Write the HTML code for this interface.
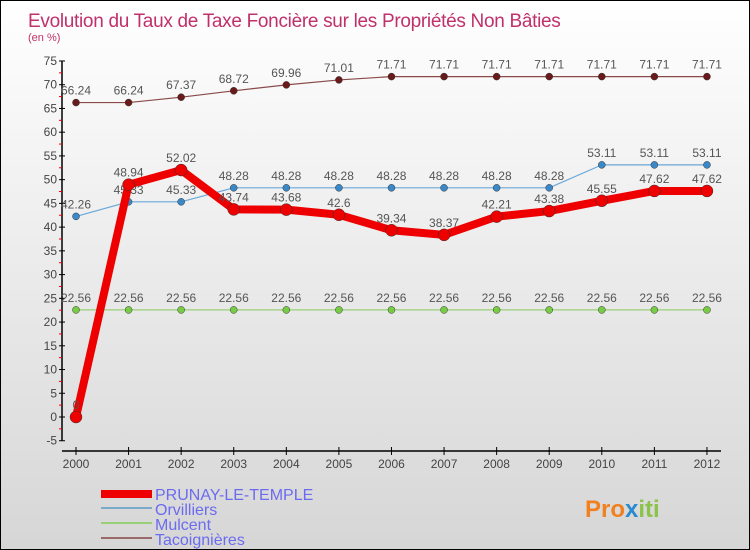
<!DOCTYPE html>
<html><head><meta charset="utf-8"><style>
body{margin:0}
#c{width:748px;height:548px;border:1px solid #000;position:relative;background:linear-gradient(#fff,#d6d6d6);font-family:"Liberation Sans",sans-serif;overflow:hidden}
</style></head><body>
<div id="c">
<svg width="748" height="548" id="s" style="position:absolute;left:0;top:0">
<text x="27" y="26" font-size="19" letter-spacing="-0.3" fill="#c0306a">Evolution du Taux de Taxe Foncière sur les Propriétés Non Bâties</text>
<text x="27" y="40" font-size="11" fill="#c0306a">(en %)</text>
<g id="ax"></g><g id="series"></g>
<g font-size="16" fill="#6b6bf0">
<rect x="100" y="489" width="51" height="8" fill="#e00"/>
<text x="154" y="499">PRUNAY-LE-TEMPLE</text>
<line x1="100" y1="507" x2="151" y2="507" stroke="#7aaac8" stroke-width="2"/>
<text x="154" y="514">Orvilliers</text>
<line x1="100" y1="522" x2="151" y2="522" stroke="#99d077" stroke-width="2"/>
<text x="154" y="529">Mulcent</text>
<line x1="100" y1="537" x2="151" y2="537" stroke="#9a6a6a" stroke-width="2"/>
<text x="154" y="544">Tacoignières</text>
</g>
<text x="584" y="516" font-size="24" font-weight="bold" fill="#f08020">Pro<tspan fill="#2a8ad0">x</tspan><tspan fill="#8bc34a">iti</tspan></text>
</svg>
</div>
<script>
const years=[2000,2001,2002,2003,2004,2005,2006,2007,2008,2009,2010,2011,2012];
const prunay=[0,48.94,52.02,43.74,43.68,42.6,39.34,38.37,42.21,43.38,45.55,47.62,47.62];
const orvilliers=[42.26,45.33,45.33,48.28,48.28,48.28,48.28,48.28,48.28,48.28,53.11,53.11,53.11];
const mulcent=[22.56,22.56,22.56,22.56,22.56,22.56,22.56,22.56,22.56,22.56,22.56,22.56,22.56];
const tacoignieres=[66.24,66.24,67.37,68.72,69.96,71.01,71.71,71.71,71.71,71.71,71.71,71.71,71.71];
const yTicks=[-5,0,5,10,15,20,25,30,35,40,45,50,55,60,65,70,75];
const NS="http://www.w3.org/2000/svg";
const X=i=>75+i*52.58, Y=v=>416-v*4.747;
function mk(p,t,a){const e=document.createElementNS(NS,t);for(const k in a)e.setAttribute(k,a[k]);p.appendChild(e);return e;}
const ax=document.getElementById('ax'), sg=document.getElementById('series');
let l=mk(ax,'line',{x1:61,y1:Y(75),x2:61,y2:Y(-5),stroke:'#000','stroke-width':1.5});


l=mk(ax,'line',{x1:61,y1:450,x2:720,y2:450,stroke:'#000','stroke-width':1.5});


yTicks.forEach(v=>{
 mk(ax,'line',{x1:58,y1:Y(v),x2:64,y2:Y(v),stroke:'#000'});
 if(v<75)mk(ax,'line',{x1:58,y1:Y(v+2.5),x2:61,y2:Y(v+2.5),stroke:'#e00'});
 const t=mk(ax,'text',{x:56,y:Y(v)+4,'text-anchor':'end','font-size':12,fill:'#444'});t.textContent=v;
 
 
});
years.forEach((yr,i)=>{
 mk(ax,'line',{x1:X(i),y1:446,x2:X(i),y2:454,stroke:'#000'});
 const t=mk(ax,'text',{x:X(i),y:467,'text-anchor':'middle','font-size':12,fill:'#444'});t.textContent=yr;
 
 
});
function series(data,name,col,dot,w,r){
 const g=mk(sg,'g',{});
 
 
 const pl=mk(g,'polyline',{points:data.map((v,i)=>X(i)+','+Y(v)).join(' '),fill:'none',stroke:col,'stroke-width':w,'stroke-linejoin':'round'});
 
 
 data.forEach((v,i)=>{
  const c=mk(g,'circle',{cx:X(i),cy:Y(v),r:r,fill:dot,stroke:'#333','stroke-width':0.5});
  
  
  const t=mk(g,'text',{x:X(i),y:Y(v)-8,'text-anchor':'middle','font-size':12,fill:'#555'});t.textContent=v;
  
  
 });
}
series(tacoignieres,'tacoignieres','#8a4a4a','#6a1a1a',1.2,3.5);
series(mulcent,'mulcent','#99d077','#77cc44',1.2,3.5);
series(orvilliers,'orvilliers','#6aa8d8','#3a88c8',1.2,3.5);
series(prunay,'prunay','#ee0000','#ee0000',8,6);
</script>
</body></html>
